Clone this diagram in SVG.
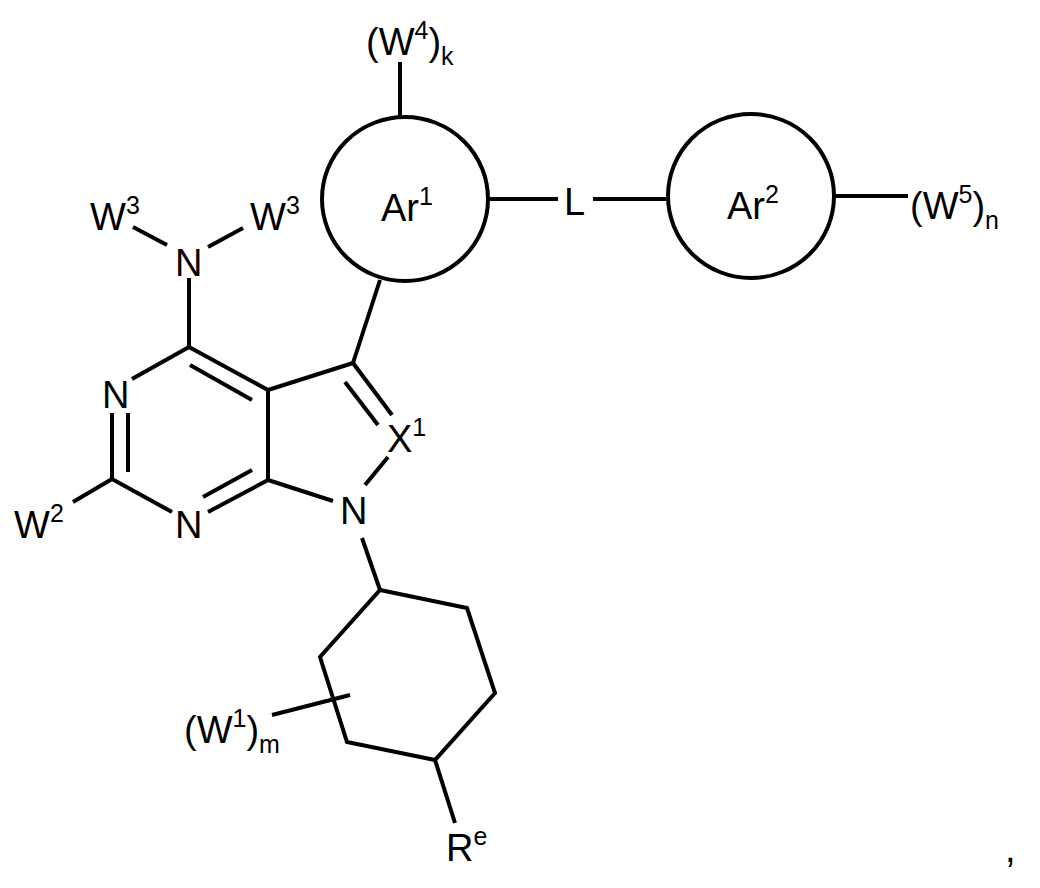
<svg xmlns="http://www.w3.org/2000/svg" width="1040" height="888" viewBox="0 0 1040 888">
<style>
line,ellipse,path{stroke:#000;stroke-width:4;fill:none;stroke-linecap:butt}
text{font-family:"Liberation Sans",Arial,sans-serif;font-size:38px;fill:#000}
.s{font-size:25px}
</style>
<rect width="1040" height="888" fill="#fff"/>
<g id="bonds">
<line x1="133" y1="227" x2="167" y2="245"/>
<line x1="208" y1="247" x2="243" y2="228"/>
<line x1="189" y1="278" x2="189" y2="347"/>
<line x1="189" y1="347" x2="132" y2="379"/>
<line x1="189" y1="347" x2="268" y2="390"/>
<line x1="190" y1="365" x2="252" y2="400"/>
<line x1="268" y1="390" x2="268" y2="480"/>
<line x1="268" y1="390" x2="353" y2="363"/>
<line x1="353" y1="363" x2="380" y2="280"/>
<line x1="353" y1="363" x2="392" y2="415"/>
<line x1="345" y1="382" x2="378" y2="425"/>
<line x1="388" y1="457" x2="365" y2="485"/>
<line x1="268" y1="480" x2="333" y2="501"/>
<line x1="268" y1="480" x2="208" y2="512"/>
<line x1="252" y1="470" x2="203" y2="497"/>
<line x1="172" y1="512" x2="112" y2="479"/>
<line x1="112" y1="479" x2="112" y2="413"/>
<line x1="128" y1="413" x2="128" y2="472"/>
<line x1="112" y1="479" x2="73" y2="502"/>
<line x1="362" y1="538" x2="380" y2="590"/>
<path d="M380 590 L467 608 L495 693 L435 760 L347 742 L320 657 Z"/>
<line x1="435" y1="760" x2="455" y2="823"/>
<line x1="272" y1="715" x2="350" y2="695"/>
<line x1="400" y1="62" x2="400" y2="117"/>
<line x1="488" y1="199" x2="558" y2="199"/>
<line x1="593" y1="199" x2="668" y2="199"/>
<line x1="835" y1="196" x2="908" y2="196"/>
</g>
<g id="Ar1"><ellipse cx="405" cy="199" rx="83" ry="82"/><text x="381" y="221">Ar<tspan class="s" dy="-16">1</tspan></text></g>
<g id="Ar2"><ellipse cx="751" cy="196" rx="83" ry="82"/><text x="727" y="219">Ar<tspan class="s" dy="-16">2</tspan></text></g>
<g id="L"><text x="564" y="215">L</text></g>
<g id="W4"><text x="366" y="55">(W<tspan class="s" dy="-16">4</tspan><tspan dy="16">)</tspan><tspan class="s" dy="10">k</tspan></text></g>
<g id="W5"><text x="910" y="219">(W<tspan class="s" dy="-16">5</tspan><tspan dy="16">)</tspan><tspan class="s" dy="10">n</tspan></text></g>
<g id="N4"><text x="175" y="276">N</text></g>
<g id="W3a"><text x="90" y="230">W<tspan class="s" dy="-16">3</tspan></text></g>
<g id="W3b"><text x="250" y="230">W<tspan class="s" dy="-16">3</tspan></text></g>
<g id="N3"><text x="102" y="408">N</text></g>
<g id="N1p"><text x="175" y="538">N</text></g>
<g id="W2"><text x="14" y="538">W<tspan class="s" dy="-16">2</tspan></text></g>
<g id="X1"><text x="387" y="452">X<tspan class="s" dy="-16">1</tspan></text></g>
<g id="N1"><text x="340" y="524">N</text></g>
<g id="W1"><text x="184" y="743">(W<tspan class="s" dy="-16">1</tspan><tspan dy="16">)</tspan><tspan class="s" dy="10">m</tspan></text></g>
<g id="Re"><text x="446" y="861">R<tspan class="s" dy="-16">e</tspan></text></g>
<text x="1005" y="862">,</text>
</svg>
